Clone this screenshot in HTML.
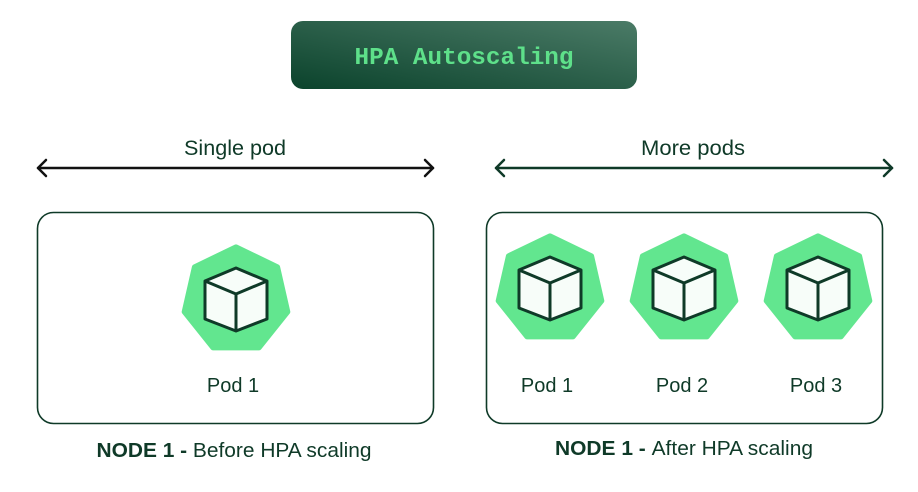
<!DOCTYPE html>
<html><head><meta charset="utf-8"><style>
html,body{margin:0;padding:0;background:#fff;width:918px;height:492px;overflow:hidden}
</style></head><body>
<svg width="918" height="492" viewBox="0 0 918 492" xmlns="http://www.w3.org/2000/svg">
<defs>
<linearGradient id="g" x1="0" y1="1" x2="1" y2="0">
<stop offset="0" stop-color="#0b432c"/><stop offset="1" stop-color="#4b7b67"/>
</linearGradient>
<g id="pod">
<polygon points="0,-1 0.7818,-0.6235 0.9749,0.2225 0.4339,0.901 -0.4339,0.901 -0.9749,0.2225 -0.7818,-0.6235" transform="scale(53)" fill="#62e68f" stroke="#62e68f" stroke-width="0.1" stroke-linejoin="round"/>
<g fill="#f7fdf9" stroke="#0f3a28" stroke-width="3" stroke-linejoin="round">
<polygon points="0,-32 31,-19 31,19 0,31 -31,19 -31,-19"/>
<polyline points="-31,-19 0,-6 31,-19" fill="none"/>
<line x1="0" y1="-6" x2="0" y2="31"/>
</g>
</g>
</defs>
<rect x="291" y="21" width="346" height="68" rx="12" fill="url(#g)"/>
<text x="464" y="64" text-anchor="middle" font-family="Liberation Mono, monospace" font-weight="bold" font-size="24" fill="#5ee08a" textLength="219" lengthAdjust="spacingAndGlyphs">HPA Autoscaling</text>

<text x="235" y="155" text-anchor="middle" font-family="Liberation Sans, sans-serif" font-size="21" fill="#0f3a28" textLength="102" lengthAdjust="spacingAndGlyphs">Single pod</text>
<text x="693" y="155" text-anchor="middle" font-family="Liberation Sans, sans-serif" font-size="21" fill="#0f3a28" textLength="104" lengthAdjust="spacingAndGlyphs">More pods</text>

<g stroke="#111" stroke-width="2.5" fill="none" stroke-linecap="round" stroke-linejoin="round">
<line x1="38" y1="168" x2="433" y2="168"/>
<polyline points="46,160 38,168 46,176"/><polyline points="425,160 433,168 425,176"/>
</g>
<g stroke="#0f3a28" stroke-width="2.5" fill="none" stroke-linecap="round" stroke-linejoin="round">
<line x1="496" y1="168" x2="892" y2="168"/>
<polyline points="504,160 496,168 504,176"/><polyline points="884,160 892,168 884,176"/>
</g>

<rect x="37.5" y="212.5" width="396" height="211" rx="16" fill="none" stroke="#0f3a28" stroke-width="1.6"/>
<rect x="486.5" y="212.5" width="396" height="211" rx="16" fill="none" stroke="#0f3a28" stroke-width="1.6"/>

<use href="#pod" x="236" y="300"/>
<use href="#pod" x="550" y="289"/>
<use href="#pod" x="684" y="289"/>
<use href="#pod" x="818" y="289"/>

<g font-family="Liberation Sans, sans-serif" font-size="20" fill="#0f3a28" text-anchor="middle">
<text x="233" y="392">Pod 1</text>
<text x="547" y="392">Pod 1</text>
<text x="682" y="392">Pod 2</text>
<text x="816" y="392">Pod 3</text>
<text x="234" y="457" textLength="275" lengthAdjust="spacingAndGlyphs"><tspan font-weight="bold">NODE 1 - </tspan>Before HPA scaling</text>
<text x="684" y="455" textLength="258" lengthAdjust="spacingAndGlyphs"><tspan font-weight="bold">NODE 1 - </tspan>After HPA scaling</text>
</g>
</svg>
</body></html>
